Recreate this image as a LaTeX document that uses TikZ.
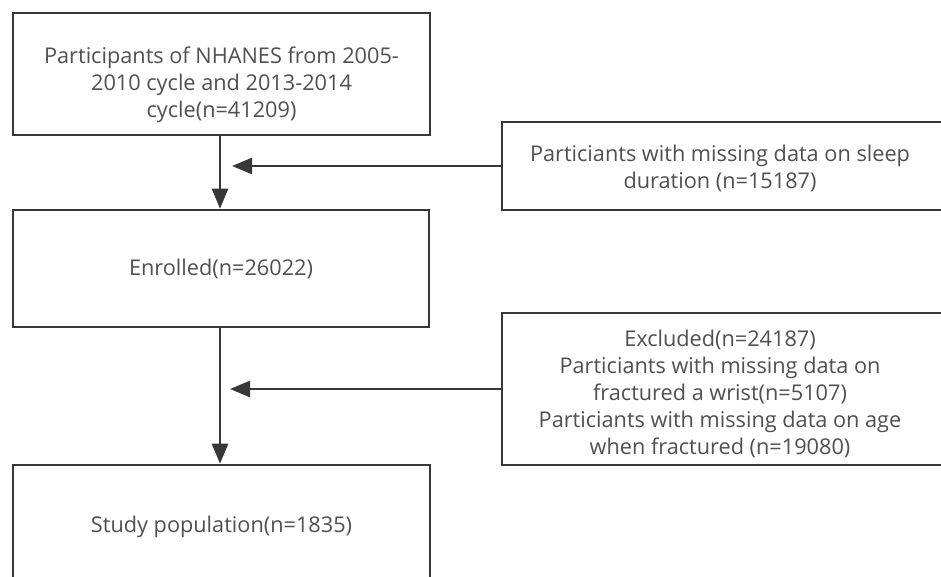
\documentclass[tikz,border=0pt]{standalone}
\usepackage{fontspec}
\setmainfont{Open Sans}
\usetikzlibrary{arrows.meta}
\definecolor{framegray}{HTML}{383838}
\definecolor{textgray}{HTML}{505050}
\begin{document}
\begin{tikzpicture}[x=1pt,y=1pt,
  box/.style={draw=framegray, line width=2.6pt, inner sep=0pt},
  txt/.style={align=center, text=textgray, font=\fontsize{21.7}{27}\selectfont},
  flow/.style={draw=framegray, line width=2.6pt, -{Triangle[length=20pt,width=16pt]}}]
\clip (0,0) rectangle (941,-577);
\fill[white] (0,0) rectangle (941,-577);
% main column
\node[box, minimum width=417, minimum height=122] (p1) at (221.5,-74) {};
\node[txt] (t1) at (221.5,-85) {Participants of NHANES from 2005-\\2010 cycle and 2013-2014\\cycle(n=41209)};
\node[box, minimum width=416, minimum height=117] (p2) at (221,-268.5) {};
\node[txt] (t2) at (221,-268.5) {Enrolled(n=26022)};
\node[box, minimum width=417, minimum height=160] (p3) at (221.5,-545) {};
\node[txt] (t3) at (221.5,-527) {Study population(n=1835)};
% excluded boxes, cut at the right margin
\node[box, minimum width=460, minimum height=88] (x1) at (732,-166) {};
\node[txt] (u1) at (720,-168) {Particiants with missing data on sleep\\duration (n=15187)};
\node[box, minimum width=460, minimum height=152] (x2) at (732,-389) {};
\node[txt] (u2) at (720,-394) {Excluded(n=24187)\\Particiants with missing data on\\fractured a wrist(n=5107)\\Particiants with missing data on age\\when fractured (n=19080)};
\coordinate (m1) at (232,-166);
\coordinate (m2) at (230,-389);
\draw[flow] (220,-135) -- (p2.north -| 220,0);
\draw[flow] (220,-327) -- (p3.north -| 220,0);
\foreach \s/\e in {x1/m1,x2/m2}
{ \draw[flow] (\s.west) -- (\e);};
\end{tikzpicture}
\end{document}
